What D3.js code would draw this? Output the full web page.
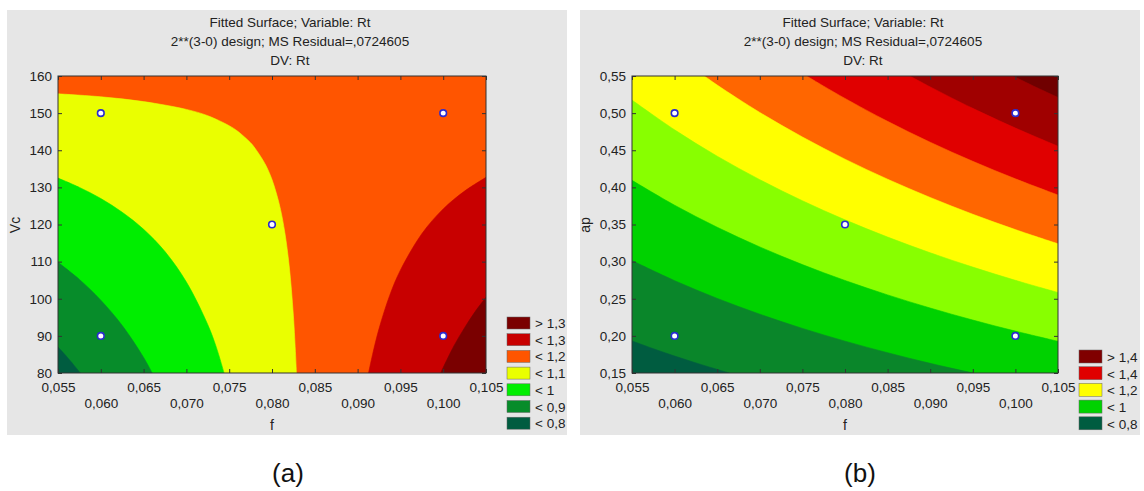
<!DOCTYPE html>
<html lang="pt">
  <head>
    <meta charset="UTF-8" />
    <title>Fitted Surface - Rt</title>
    <script src="https://d3js.org/d3.v7.min.js"></script>
    <style>
      body { margin: 0; background: #fff; }
      text { font-family: "Liberation Sans", Arial, sans-serif; fill: #222; }
    </style>
  </head>
  <body>
    <svg width="1144" height="491"></svg>

    <script>
      // eixos
      const fTicks = [0.055, 0.06, 0.065, 0.07, 0.075, 0.08, 0.085, 0.09, 0.095, 0.1, 0.105];
      const vcTicks = [80, 90, 100, 110, 120, 130, 140, 150, 160];
      const apTicks = [0.15, 0.2, 0.25, 0.3, 0.35, 0.4, 0.45, 0.5, 0.55];

      // pontos do planejamento
      const designF = [0.06, 0.06, 0.08, 0.1, 0.1];
      const designVc = [150, 90, 120, 150, 90];
      const designAp = [0.5, 0.2, 0.35, 0.5, 0.2];

      // linhas de contorno (a): [f, Vc]
      const rtA08 = [[0.055, 87.0], [0.05625, 83.8], [0.0576, 80]];
      const rtA09 = [[0.055, 109.8], [0.0575, 105.2], [0.06, 99.6], [0.0625, 92.8], [0.065, 84.2], [0.066, 80]];
      const rtA10 = [[0.055, 132.5], [0.0575, 130.0], [0.06, 127.0], [0.0625, 123.3], [0.065, 118.7],
                     [0.0675, 112.7], [0.07, 104.5], [0.0725, 93.0], [0.0735, 86.9], [0.0744, 80]];
      const rtA11 = [[0.055, 155.2], [0.06, 154.4], [0.065, 153.1], [0.07, 151.0], [0.0725, 149.3],
                     [0.075, 146.6], [0.076, 145.1], [0.0775, 142.0], [0.078, 140.6], [0.079, 137.1],
                     [0.0795, 134.9], [0.08, 132.1], [0.0805, 128.5], [0.081, 124.0], [0.0815, 117.8],
                     [0.082, 109.0], [0.0825, 95.4], [0.08286, 80]];
      const rtA12 = [[0.09128, 80], [0.09175, 85.0], [0.0925, 91.9], [0.09375, 100.9], [0.095, 107.7],
                     [0.0975, 117.5], [0.1, 124.2], [0.1025, 129.0], [0.105, 132.7]];
      const rtA13 = [[0.0997, 80], [0.1, 81.5], [0.10125, 87.3], [0.1025, 92.2], [0.10375, 96.6], [0.105, 100.4]];

      // linhas de contorno (b): [f, ap]
      const rtB08 = [[0.055, 0.1932], [0.0575, 0.1827], [0.06, 0.1728], [0.0625, 0.1636], [0.065, 0.1548], [0.0664, 0.15]];
      const rtB09 = [[0.055, 0.3014], [0.06, 0.2744], [0.065, 0.2505], [0.07, 0.2292], [0.075, 0.2101],
                     [0.08, 0.1929], [0.085, 0.1773], [0.09, 0.163], [0.095, 0.15]];
      const rtB10 = [[0.055, 0.4095], [0.06, 0.376], [0.065, 0.3463], [0.07, 0.3198], [0.075, 0.296], [0.08, 0.2746],
                     [0.085, 0.2552], [0.09, 0.2375], [0.095, 0.2213], [0.1, 0.2064], [0.105, 0.1927]];
      const rtB11 = [[0.055, 0.5176], [0.06, 0.4775], [0.065, 0.442], [0.07, 0.4104], [0.075, 0.382], [0.08, 0.3563],
                     [0.085, 0.3331], [0.09, 0.3119], [0.095, 0.2926], [0.1, 0.2748], [0.105, 0.2584]];
      const rtB12 = [[0.0635, 0.55], [0.065, 0.5378], [0.07, 0.5009], [0.075, 0.4679], [0.08, 0.438],
                     [0.085, 0.411], [0.09, 0.3864], [0.095, 0.3638], [0.1, 0.3431], [0.105, 0.324]];
      const rtB13 = [[0.0755, 0.55], [0.0775, 0.5363], [0.08, 0.5198], [0.085, 0.4889], [0.09, 0.4608],
                     [0.095, 0.4351], [0.1, 0.4115], [0.105, 0.3897]];
      const rtB14 = [[0.0876, 0.55], [0.09, 0.5353], [0.0925, 0.5205], [0.095, 0.5064], [0.1, 0.4799], [0.105, 0.4554]];
      const rtB15 = [[0.0997, 0.55], [0.1025, 0.5344], [0.105, 0.5211]];

      // legendas
      const legendA = ["> 1,3", "< 1,3", "< 1,2", "< 1,1", "< 1", "< 0,9", "< 0,8"];
      const legendAColors = ["#7a0000", "#c80000", "#ff5500", "#eaff00", "#00ee00", "#078c2a", "#005c40"];
      const legendB = ["> 1,4", "< 1,4", "< 1,2", "< 1", "< 0,8"];
      const legendBColors = ["#800000", "#e00000", "#ffff00", "#00d200", "#005c40"];

      const titleLines = ["Fitted Surface; Variable: Rt", "2**(3-0) design; MS Residual=,0724605", "DV: Rt"];

      const svg = d3.select("svg");

      function drawPanel(cfg) {
        const g = svg.append("g");
        const p = cfg.plot;

        g.append("rect")
          .attr("x", cfg.bg[0]).attr("y", cfg.bg[1])
          .attr("width", cfg.bg[2]).attr("height", cfg.bg[3])
          .attr("fill", "#e6e6e6");

        // títulos
        titleLines.forEach((t, i) => {
          g.append("text")
            .attr("x", cfg.titleX).attr("y", 27 + i * 19)
            .attr("text-anchor", "middle")
            .style("font-size", "13.5px")
            .text(t);
        });

        const x = d3.scaleLinear().domain([0.055, 0.105]).range([p.x0, p.x1]);
        const y = d3.scaleLinear().domain(cfg.yDomain).range([p.y1, p.y0]);

        const clipId = "clip-" + cfg.id;
        g.append("clipPath").attr("id", clipId)
          .append("rect")
          .attr("x", p.x0).attr("y", p.y0)
          .attr("width", p.x1 - p.x0).attr("height", p.y1 - p.y0);

        const area = g.append("g").attr("clip-path", `url(#${clipId})`);
        const xd = x.domain(), yd = y.domain();
        const curve = d3.line().x((d) => x(d[0])).y((d) => y(d[1])).curve(d3.curveCatmullRom);
        const corner = (c) => `L${x(c[0])},${y(c[1])}`;

        // regiões: fundo + polígonos formados pelas linhas de contorno
        area.append("rect")
          .attr("x", p.x0).attr("y", p.y0)
          .attr("width", p.x1 - p.x0).attr("height", p.y1 - p.y0)
          .attr("fill", cfg.baseColor);

        cfg.fills.forEach((f) => {
          const pts = f.pts;
          const s = pts[0], e = pts[pts.length - 1];
          let corners = [];
          if (f.side === "high") {
            corners = [[xd[1], yd[0]]];
          } else {
            if (e[0] >= xd[1] - 1e-9) corners.push([xd[1], yd[0]]);
            corners.push([xd[0], yd[0]]);
            if (s[1] >= yd[1] - 1e-9) corners.push([xd[0], yd[1]]);
          }
          area.append("path")
            .attr("d", curve(pts) + corners.map(corner).join("") + "Z")
            .attr("fill", f.color)
            .attr("stroke", f.color)
            .attr("stroke-width", 0.6);
        });

        // eixos
        const fmtF = (d) => d.toFixed(3).replace(".", ",");
        const xAxis = g.append("g")
          .attr("transform", `translate(0,${p.y1})`)
          .call(d3.axisBottom(x).tickValues(fTicks).tickFormat(fmtF)
            .tickSizeInner(-4).tickSizeOuter(0).tickPadding(9));
        xAxis.selectAll("text").attr("y", (d, i) => (i % 2 ? 25 : 9)).style("font-size", "13.5px");

        const yAxis = g.append("g")
          .attr("transform", `translate(${p.x0},0)`)
          .call(d3.axisLeft(y).tickValues(cfg.yTicks).tickFormat(cfg.yFmt)
            .tickSizeInner(-4).tickSizeOuter(0).tickPadding(6));
        yAxis.selectAll("text").style("font-size", "13.5px");

        g.append("g")
          .attr("transform", `translate(0,${p.y0})`)
          .call(d3.axisTop(x).tickValues(fTicks).tickFormat("").tickSizeInner(-4).tickSizeOuter(0));
        g.append("g")
          .attr("transform", `translate(${p.x1},0)`)
          .call(d3.axisRight(y).tickValues(cfg.yTicks).tickFormat("").tickSizeInner(-4).tickSizeOuter(0));

        g.selectAll(".domain").remove();
        g.selectAll(".tick line").attr("stroke", "#333");
        g.selectAll(".tick text").attr("fill", "#222");

        g.append("rect")
          .attr("x", p.x0).attr("y", p.y0)
          .attr("width", p.x1 - p.x0).attr("height", p.y1 - p.y0)
          .attr("fill", "none").attr("stroke", "#333").attr("stroke-width", 1);

        // pontos
        g.selectAll("circle.pt")
          .data(cfg.ptsX.map((v, i) => [v, cfg.ptsY[i]]))
          .enter()
          .append("circle")
          .attr("class", "pt")
          .attr("cx", (d) => x(d[0])).attr("cy", (d) => y(d[1]))
          .attr("r", 3.3)
          .attr("fill", "#fff")
          .attr("stroke", "#2b2bd0")
          .attr("stroke-width", 1.6);

        // rótulos dos eixos
        g.append("text")
          .attr("x", (p.x0 + p.x1) / 2).attr("y", 430)
          .attr("text-anchor", "middle")
          .style("font-size", "14px")
          .text("f");
        g.append("text")
          .attr("transform", `translate(${cfg.yLabelX},225) rotate(-90)`)
          .attr("text-anchor", "middle")
          .style("font-size", "14px")
          .text(cfg.yLabel);

        // legenda
        cfg.legend.forEach((t, i) => {
          const ly = cfg.legendY + i * cfg.legendStep;
          g.append("rect")
            .attr("x", cfg.legendX).attr("y", ly)
            .attr("width", 23).attr("height", cfg.boxH)
            .attr("fill", cfg.legendColors[i])
            .attr("stroke", "#666").attr("stroke-width", 0.5);
          g.append("text")
            .attr("x", cfg.legendX + 28).attr("y", ly + cfg.boxH - 1)
            .style("font-size", "13.5px")
            .text(t);
        });

        // legenda da figura
        svg.append("text")
          .attr("x", cfg.captionX).attr("y", 482)
          .attr("text-anchor", "middle")
          .style("font-size", "26px")
          .style("fill", "#111")
          .text(cfg.caption);
      }

      drawPanel({
        id: "a",
        bg: [7, 10, 560, 425],
        plot: { x0: 58, x1: 486, y0: 76, y1: 373 },
        titleX: 290,
        yDomain: [80, 160],
        yTicks: vcTicks,
        yFmt: (d) => d,
        yLabel: "Vc",
        yLabelX: 20,
        baseColor: "#ff5500",
        fills: [
          { pts: rtA11, side: "low", color: "#eaff00" },
          { pts: rtA10, side: "low", color: "#00ee00" },
          { pts: rtA09, side: "low", color: "#078c2a" },
          { pts: rtA08, side: "low", color: "#005c40" },
          { pts: rtA12, side: "high", color: "#c80000" },
          { pts: rtA13, side: "high", color: "#7a0000" },
        ],
        ptsX: designF,
        ptsY: designVc,
        legend: legendA,
        legendColors: legendAColors,
        legendX: 507,
        legendY: 317,
        legendStep: 16.7,
        boxH: 12,
        caption: "(a)",
        captionX: 288,
      });

      drawPanel({
        id: "b",
        bg: [580, 10, 560, 425],
        plot: { x0: 632, x1: 1058, y0: 76, y1: 373 },
        titleX: 863,
        yDomain: [0.15, 0.55],
        yTicks: apTicks,
        yFmt: (d) => d.toFixed(2).replace(".", ","),
        yLabel: "ap",
        yLabelX: 590,
        baseColor: "#700000",
        fills: [
          { pts: rtB15, side: "low", color: "#a00000" },
          { pts: rtB14, side: "low", color: "#e00000" },
          { pts: rtB13, side: "low", color: "#ff6600" },
          { pts: rtB12, side: "low", color: "#ffff00" },
          { pts: rtB11, side: "low", color: "#88ff00" },
          { pts: rtB10, side: "low", color: "#00d200" },
          { pts: rtB09, side: "low", color: "#0a862a" },
          { pts: rtB08, side: "low", color: "#005c40" },
        ],
        ptsX: designF,
        ptsY: designAp,
        legend: legendB,
        legendColors: legendBColors,
        legendX: 1079,
        legendY: 350,
        legendStep: 16.7,
        boxH: 13,
        caption: "(b)",
        captionX: 860,
      });
    </script>
  </body>
</html>
